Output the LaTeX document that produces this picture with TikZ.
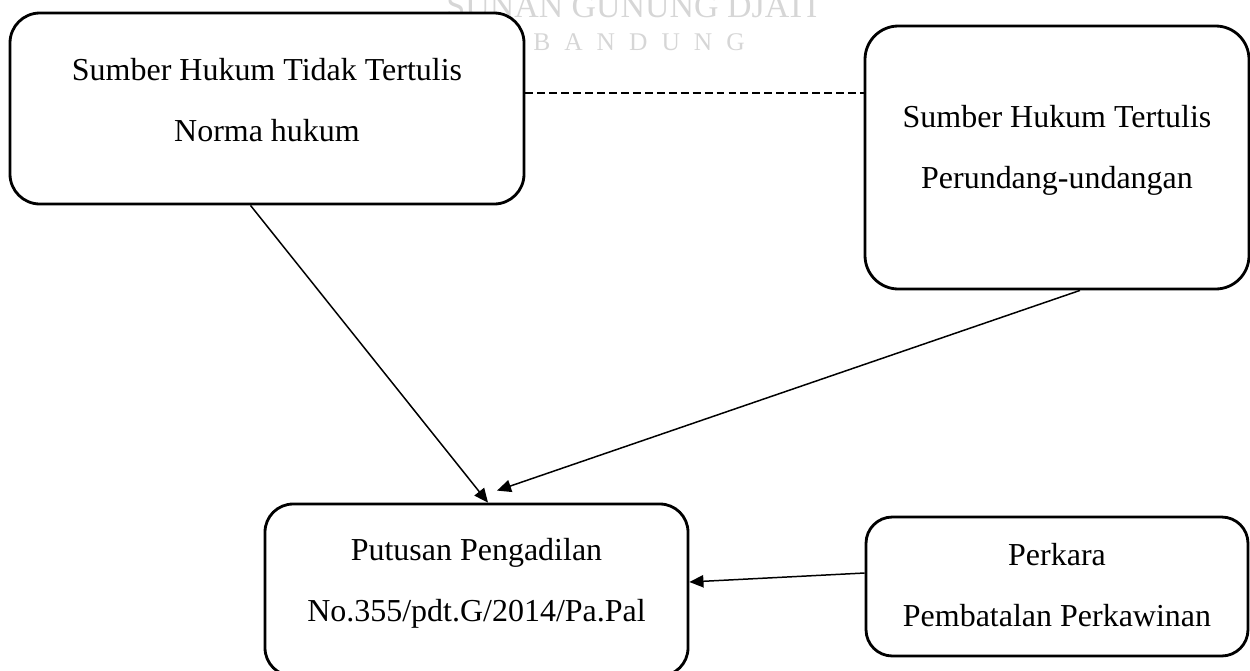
\documentclass[tikz,border=0pt]{standalone}
\usepackage{fontspec}
\setmainfont{Liberation Serif}
\newfontfamily\wmfont{Liberation Serif}
\newfontfamily\wmspaced[LetterSpace=55]{Liberation Serif}
\usetikzlibrary{arrows.meta,calc,fit}

\begin{document}
\begin{tikzpicture}[
  x=0.02cm, y=-0.02cm,
  box/.style={draw=black, line width=1.6pt, fill=white, rounded corners=17pt, inner sep=0pt},
  boxtext/.style={font=\fontsize{18.2}{34.6}\selectfont, align=center, anchor=north, inner sep=0pt},
  arrow/.style={-{Triangle[length=8pt, width=7pt]}, line width=.85pt, draw=black},
  link/.style={line width=1.1pt, dash pattern=on 4.5pt off 2.3pt, draw=black},
  wmark/.style={text=black!16, inner sep=0pt}
]
  \useasboundingbox (0,0) rectangle (1250,670);

  % watermark behind the boxes
  \node[wmark, font=\wmfont\fontsize{19.3}{20}\selectfont, anchor=base] (wm-top) at (632,17) {SUNAN GUNUNG DJATI};
  \node[wmark, font=\wmspaced\fontsize{14.5}{16}\selectfont, anchor=base west] (wm-bottom) at (533,50) {BANDUNG};

  % boxes
  \node[box, fit={(10,13) (524,204)}] (tidak) {};
  \node[box, rounded corners=19pt, fit={(865,26) (1249,289)}] (tertulis) {};
  \node[box, rounded corners=16pt, fit={(265,504) (688,676)}] (putusan) {};
  \node[box, rounded corners=15pt, fit={(866,517) (1248,656)}] (perkara) {};

  \node[boxtext] (tidak-text) at (267,58) {Sumber Hukum Tidak Tertulis\\Norma hukum};
  \node[boxtext] (tertulis-text) at (1057,105) {Sumber Hukum Tertulis\\Perundang-undangan};
  \node[boxtext] (putusan-text) at (476.5,538) {Putusan Pengadilan\\No.355/pdt.G/2014/Pa.Pal};
  \node[boxtext] (perkara-text) at (1057,543) {Perkara\\Pembatalan Perkawinan};

  % connectors
  \coordinate (dash-start) at ($(tidak.east)+(0,-15.5)$);
  \draw[link] (dash-start) -- (dash-start -| tertulis.west);
  \draw[arrow] ($(tidak.south)+(-16.5,0)$) -- ($(putusan.north)+(11.5,0)$);
  \draw[arrow] ($(tertulis.south)+(23,0)$) -- ($(putusan.north)+(20.5,-12)$);
  \draw[arrow] ($(perkara.west)+(0,-13.5)$) -- ($(putusan.east)+(0,-8)$);
\end{tikzpicture}
\end{document}
